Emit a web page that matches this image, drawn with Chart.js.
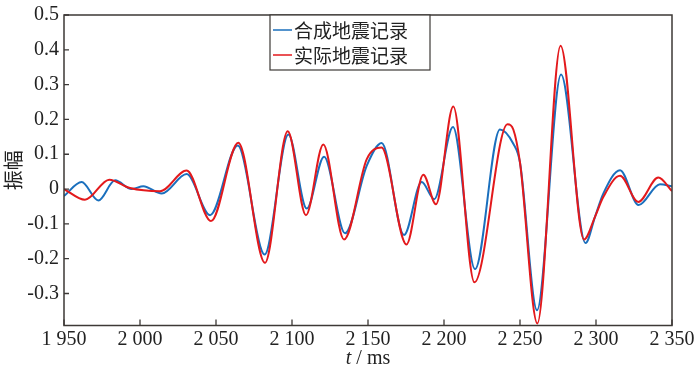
<!DOCTYPE html>
<html>
<head>
<meta charset="utf-8">
<script src="https://cdn.jsdelivr.net/npm/chart.js@4.4.1/dist/chart.umd.min.js"></script>
<style>
  html, body { margin: 0; padding: 0; background: #fff; }
  #wrap { width: 700px; height: 374px; position: relative; }
</style>
</head>
<body>
<div id="wrap"><canvas id="seis"></canvas></div>
<script>
// values (time in ms, amplitude)
const tSynth = [1950, 1961.6, 1972.6, 1983.6, 1994.5, 2002.2, 2014.3, 2030.7, 2046.1, 2064.3,
    2082.0, 2097.6, 2109.7, 2121.1, 2134.9, 2149.2, 2159.0, 2173.7, 2185.3, 2193.6,
    2205.9, 2220.4, 2236.8, 2245.6, 2250.0, 2261.2, 2277.0, 2293.1, 2299.4, 2304.8,
    2315.8, 2328.0, 2342.1, 2350];
const ampSynth = [-0.020, 0.020, -0.033, 0.025, 0.000, 0.008, -0.013, 0.043, -0.075, 0.125,
    -0.188, 0.157, -0.056, 0.093, -0.127, 0.067, 0.132, -0.132, 0.020, -0.029,
    0.178, -0.230, 0.171, 0.130, 0.076, -0.348, 0.329, -0.155, -0.079, -0.013,
    0.054, -0.046, 0.014, 0.008];

const tReal = [1950, 1963.8, 1979.8, 1993.4, 2013.2, 2030.7, 2046.7, 2064.7, 2082.2, 2097.2,
    2109.2, 2120.6, 2134.2, 2149.2, 2158.9, 2175.3, 2186.4, 2194.7, 2206.1, 2220.0,
    2241.8, 2245.6, 2250.0, 2261.4, 2276.7, 2292.1, 2299.4, 2304.8, 2315.8, 2327.8,
    2341.0, 2350];
const ampReal = [0.000, -0.031, 0.027, 0.003, -0.006, 0.053, -0.092, 0.133, -0.212, 0.166,
    -0.075, 0.128, -0.145, 0.086, 0.119, -0.159, 0.041, -0.044, 0.237, -0.268,
    0.186, 0.171, 0.076, -0.386, 0.412, -0.145, -0.079, -0.023, 0.038, -0.037,
    0.033, -0.006];

const seriesNames = ['合成地震记录', '实际地震记录'];
const BLUE = '#1a6fbd';
const RED = '#e3191c';
const INK = '#3d3936';
const SERIF = "'Liberation Serif', 'Times New Roman', serif";
const CJK = "'Noto Sans CJK SC', sans-serif";

const toPts = (ts, vs) => ts.map((t, i) => ({ x: t, y: vs[i] }));

function fmtThousands(v) {
    const s = String(Math.round(v));
    return s.length > 3 ? s.slice(0, -3) + ' ' + s.slice(-3) : s;
}

// frame, inward tick marks, legend box and x title
const decor = {
    id: 'decor',
    afterDraw(chart) {
        const { ctx, chartArea: a, scales } = chart;
        ctx.save();
        ctx.strokeStyle = INK;
        ctx.lineWidth = 1.5;
        ctx.strokeRect(a.left, a.top, a.right - a.left, a.bottom - a.top);

        ctx.lineWidth = 1.3;
        ctx.beginPath();
        scales.x.ticks.forEach(t => {
            const px = scales.x.getPixelForValue(t.value);
            ctx.moveTo(px, a.bottom);
            ctx.lineTo(px, a.bottom - 6);
        });
        scales.y.ticks.forEach(t => {
            const py = scales.y.getPixelForValue(t.value);
            ctx.moveTo(a.left, py);
            ctx.lineTo(a.left + 5, py);
        });
        ctx.stroke();

        // legend
        const lx = 270, ly = a.top, lw = 160, lh = 55;
        ctx.fillStyle = '#fff';
        ctx.fillRect(lx, ly, lw, lh);
        ctx.lineWidth = 1.2;
        ctx.strokeStyle = INK;
        ctx.strokeRect(lx, ly, lw, lh);
        const rows = [{ name: seriesNames[0], color: BLUE, y: ly + 15 },
                      { name: seriesNames[1], color: RED, y: ly + 40 }];
        ctx.font = '19px ' + CJK;
        ctx.textBaseline = 'middle';
        ctx.textAlign = 'left';
        rows.forEach(r => {
            ctx.strokeStyle = r.color;
            ctx.lineWidth = 1.5;
            ctx.beginPath();
            ctx.moveTo(lx + 3, r.y);
            ctx.lineTo(lx + 22, r.y);
            ctx.stroke();
            ctx.fillStyle = '#222';
            ctx.fillText(r.name, lx + 24, r.y + 1);
        });

        // x axis title: italic t
        const cx = (a.left + a.right) / 2, ty = 359;
        ctx.font = 'italic 20px ' + SERIF;
        const w1 = ctx.measureText('t').width;
        ctx.font = '20px ' + SERIF;
        const w2 = ctx.measureText(' / ms').width;
        const x0 = cx - (w1 + w2) / 2;
        ctx.fillStyle = '#222';
        ctx.font = 'italic 20px ' + SERIF;
        ctx.fillText('t', x0, ty);
        ctx.font = '20px ' + SERIF;
        ctx.fillText(' / ms', x0 + w1, ty);
        ctx.restore();
    }
};

new Chart(document.getElementById('seis'), {
    type: 'line',
    data: {
        datasets: [
            { label: seriesNames[0], data: toPts(tSynth, ampSynth), borderColor: BLUE,
              borderWidth: 2, pointRadius: 0, cubicInterpolationMode: 'monotone', order: 1 },
            { label: seriesNames[1], data: toPts(tReal, ampReal), borderColor: RED,
              borderWidth: 2, pointRadius: 0, cubicInterpolationMode: 'monotone', order: 0 }
        ]
    },
    options: {
        responsive: true,
        maintainAspectRatio: false,
        animation: false,
        layout: { padding: { left: 0, right: 28, top: 10.5, bottom: 0 } },
        plugins: { legend: { display: false }, tooltip: { enabled: false } },
        scales: {
            x: {
                type: 'linear',
                min: 1950, max: 2350,
                grid: { display: false, drawTicks: false },
                border: { display: false },
                ticks: {
                    stepSize: 50, padding: 3, color: '#222', maxRotation: 0,
                    font: { family: SERIF, size: 20, lineHeight: 1.1 },
                    callback: v => fmtThousands(v)
                },
                afterFit: s => { s.height = 48.5; }
            },
            y: {
                min: -0.392, max: 0.5,
                grid: { display: false, drawTicks: false },
                border: { display: false },
                ticks: {
                    stepSize: 0.1, padding: 5, color: '#222', includeBounds: false,
                    font: { family: SERIF, size: 20, lineHeight: 1 },
                    callback: v => Math.abs(v) < 1e-9 ? '0' : v.toFixed(1)
                },
                afterBuildTicks: s => { s.ticks = s.ticks.filter(t => t.value > -0.35); },
                title: { display: true, text: '振幅', color: '#222',
                         font: { family: CJK, size: 20 }, padding: { top: 1, bottom: 0 } },
                afterFit: s => { s.width = 64; }
            }
        }
    },
    plugins: [decor]
});
</script>
</body>
</html>
